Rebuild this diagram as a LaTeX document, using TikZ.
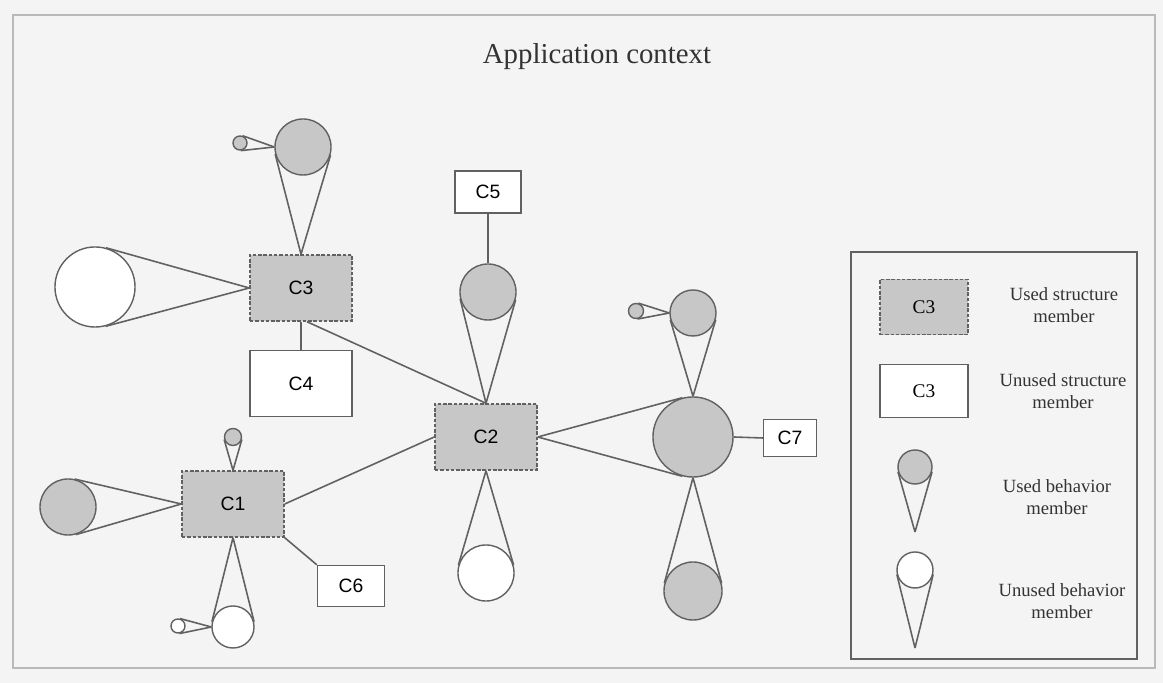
\documentclass[tikz,border=0pt]{standalone}
\usepackage{fontspec}
\setmainfont{Liberation Serif}
\setsansfont{Liberation Sans}
\usetikzlibrary{positioning, calc}
\definecolor{usedgray}{gray}{0.78}
\definecolor{linegray}{gray}{0.38}
\definecolor{paper}{gray}{0.955}
\tikzstyle{Link} = [draw=linegray, line width=0.45pt]
% two lines from an apex to the tangent points of a circle node
\newcommand{\cone}[2]{%
    \draw[Link] (#1) -- (tangent cs:node=#2, point={(#1)}, solution=1);
    \draw[Link] (#1) -- (tangent cs:node=#2, point={(#1)}, solution=2);
}

\begin{document}
\begin{tikzpicture}[
x=0.01cm, y=-0.01cm,
used/.style={
    rectangle,
    draw=linegray,
    fill=usedgray,
    dash pattern=on 1pt off 0.5pt,
    minimum width=1.02cm,
    minimum height=0.66cm,
    font=\sffamily\fontsize{5.5}{6}\selectfont
    },
unused/.style={
    rectangle,
    draw=linegray,
    fill=white,
    minimum width=1.02cm,
    minimum height=0.66cm,
    font=\sffamily\fontsize{5.5}{6}\selectfont
    },
usedb/.style={circle, draw=linegray, fill=usedgray, inner sep=0pt},
unusedb/.style={circle, draw=linegray, fill=white, inner sep=0pt},
legtext/.style={align=center, text=black!80, font=\fontsize{5.3}{6.3}\selectfont}
]

\path[use as bounding box, fill=paper] (0,0) rectangle (1163,683);
\draw[gray!55] (13,15) rectangle (1155,668);

\node[font=\fontsize{8.2}{10}\selectfont, text=black!80] (title) at (597,57) {Application context};

% structure members
\node[used] (c3) at (301,288) {C3};
\node[unused, below=0.28cm of c3] (c4) {C4};
\node[used] (c2) at (486,437) {C2};
\node[used] (c1) at (233,504) {C1};
\node[unused, minimum width=0.66cm, minimum height=0.42cm] (c5) at (488,192) {C5};
\node[unused, minimum width=0.67cm, minimum height=0.41cm] (c6) at (351,586) {C6};
\node[unused, minimum width=0.53cm, minimum height=0.34cm] (c7) at (790,438) {C7};

% behavior members
\node[usedb, minimum size=0.56cm] (t3) at (303,147) {};
\node[usedb, minimum size=0.14cm] (s3) at (240,143) {};
\node[unusedb, minimum size=0.80cm] (l3) at (95,287) {};
\node[usedb, minimum size=0.56cm] (t2) at (488,292) {};
\node[unusedb, minimum size=0.56cm] (b2) at (486,573) {};
\node[usedb, minimum size=0.80cm] (r2) at (693,437) {};
\node[usedb, minimum size=0.46cm] (t7) at (693,313) {};
\node[usedb, minimum size=0.15cm] (s7) at (636,311) {};
\node[usedb, minimum size=0.58cm] (b7) at (693,591) {};
\node[usedb, minimum size=0.17cm] (t1) at (233,437) {};
\node[usedb, minimum size=0.56cm] (l1) at (68,507) {};
\node[unusedb, minimum size=0.42cm] (b1) at (233,627) {};
\node[unusedb, minimum size=0.14cm] (s1) at (178,626) {};

\cone{c3.north}{t3}
\cone{t3.west}{s3}
\cone{c3.west}{l3}
\cone{c2.north}{t2}
\cone{c2.south}{b2}
\cone{c2.east}{r2}
\cone{r2.north}{t7}
\cone{t7.west}{s7}
\cone{r2.south}{b7}
\cone{c1.north}{t1}
\cone{c1.west}{l1}
\cone{c1.south}{b1}
\cone{b1.west}{s1}

\draw[Link] (c3.south) -- (c4.north);
\draw[Link] (c3.-80) -- (c2.north);
\draw[Link] (c5.south) -- (t2.north);
\draw[Link] (c1.east) -- (c2.west);
\draw[Link] (c1.south east) -- (c6.north west);
\draw[Link] (r2.east) -- (c7.west);

% legend
\draw[linegray] (851,252) rectangle (1137,659);
\node[used, minimum width=0.88cm, minimum height=0.55cm, font=\fontsize{5.5}{6}\selectfont] (lu) at (924,307) {C3};
\node[unused, minimum width=0.88cm, minimum height=0.53cm, font=\fontsize{5.5}{6}\selectfont] (ln) at (924,391) {C3};
\node[usedb, minimum size=0.34cm] (lub) at (915,467) {};
\coordinate (lubtip) at (915,532);
\node[unusedb, minimum size=0.36cm] (lnb) at (915,570) {};
\coordinate (lnbtip) at (915,648);
\cone{lubtip}{lub}
\cone{lnbtip}{lnb}

\node[legtext] (lut) at (1064,305) {Used structure\\member};
\node[legtext] (lnt) at (1063,391) {Unused structure\\member};
\node[legtext] (lubt) at (1057,497) {Used behavior\\member};
\node[legtext] (lnbt) at (1062,601) {Unused behavior\\member};

\end{tikzpicture}
\end{document}
